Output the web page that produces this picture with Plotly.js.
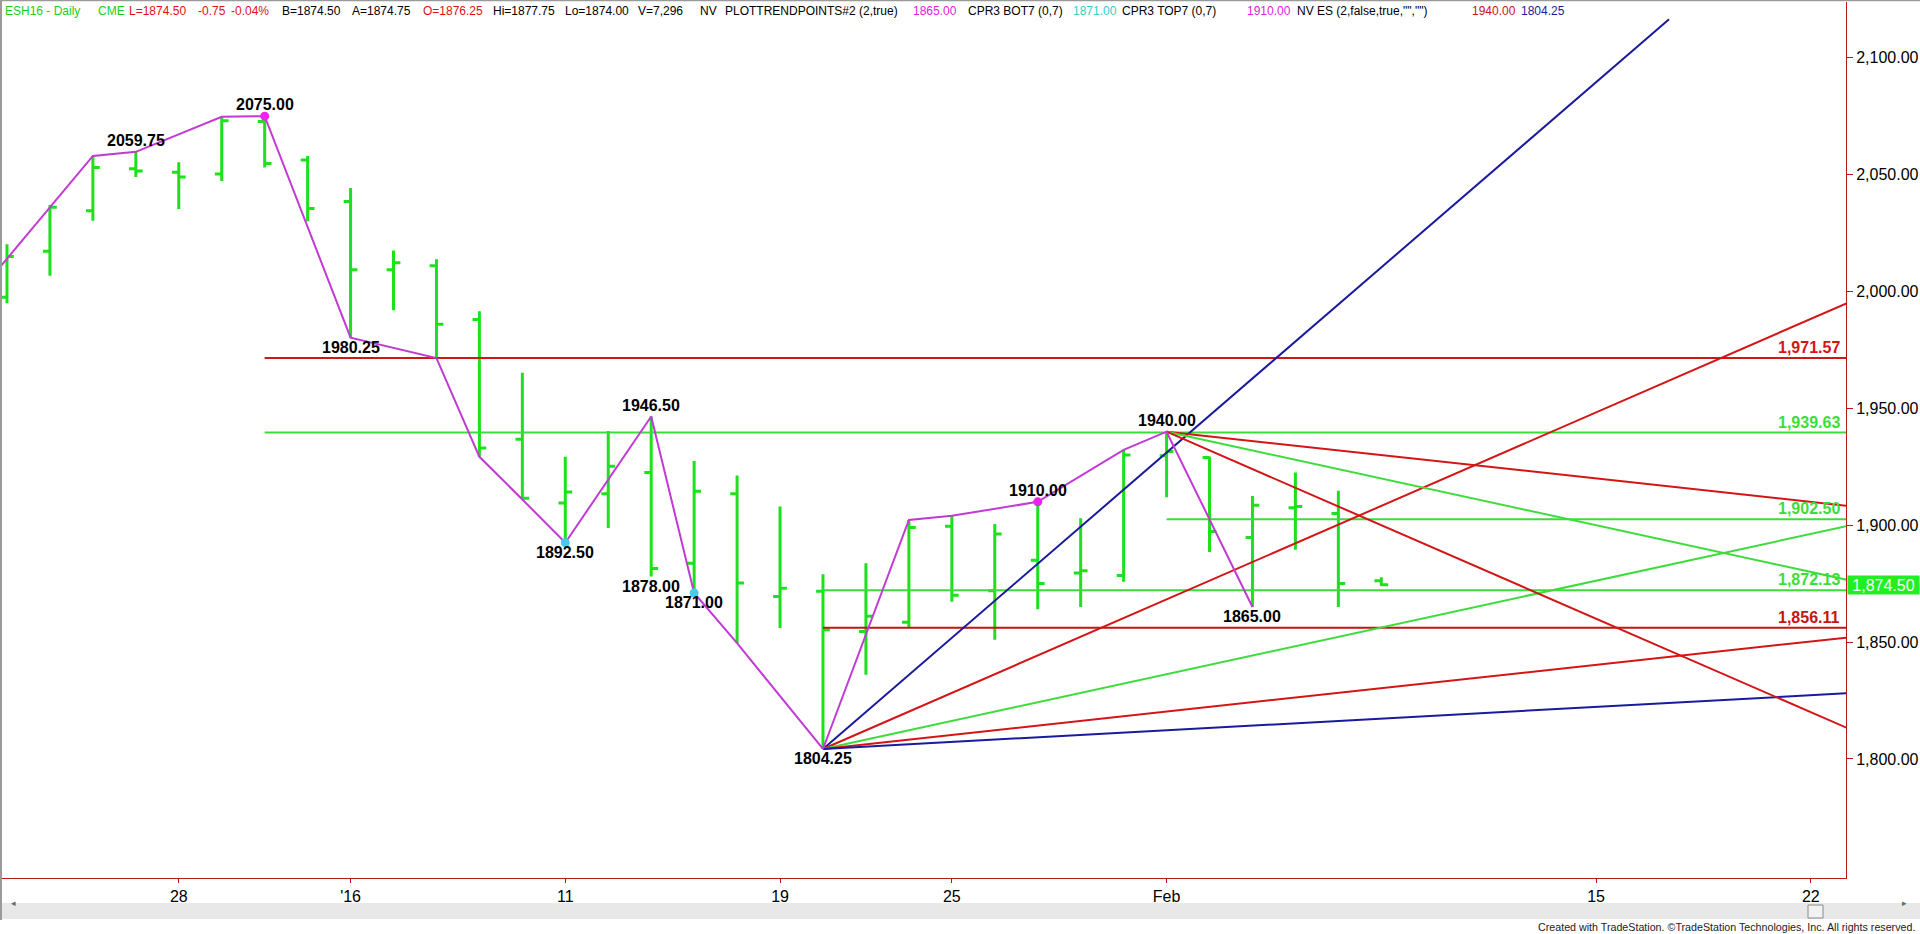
<!DOCTYPE html>
<html><head><meta charset="utf-8">
<script src="https://cdn.plot.ly/plotly-3.0.1.min.js"></script>
<style>html,body{margin:0;padding:0;background:#fff;overflow:hidden}#chart{width:1920px;height:934px;}</style>
</head><body><div id="chart"></div>
<script>
// ---------------- DATA ----------------
const dates = ['2015-12-21','2015-12-22','2015-12-23','2015-12-24','2015-12-28','2015-12-29','2015-12-30','2015-12-31',
  '2016-01-04','2016-01-05','2016-01-06','2016-01-07','2016-01-08','2016-01-11','2016-01-12','2016-01-13','2016-01-14','2016-01-15',
  '2016-01-19','2016-01-20','2016-01-21','2016-01-22','2016-01-25','2016-01-26','2016-01-27','2016-01-28','2016-01-29',
  '2016-02-01','2016-02-02','2016-02-03','2016-02-04','2016-02-05','2016-02-08'];
const openP  = [1997.5,2017.25,2034.5,2052.5,2051.0,2050.25,2072.75,2056.25,2038.5,2009.25,2011.0,1988.0,1936.75,1909.5,1913.5,1922.5,1883.75,1913.5,1869.5,1871.75,1854.5,1858.5,1899.5,1872.0,1885.0,1879.5,1878.5,1929.75,1929.0,1894.75,1907.5,1905.0,1876.25];
const highP  = [2020.25,2037.0,2058.0,2059.75,2055.25,2074.75,2075.0,2058.0,2044.25,2017.5,2013.75,1991.5,1965.25,1929.25,1940.25,1946.5,1927.5,1921.25,1908.0,1879.0,1883.75,1902.25,1904.0,1900.5,1910.0,1903.0,1932.25,1940.0,1929.25,1912.5,1922.5,1914.75,1877.75];
const lowP   = [1995.0,2006.75,2030.25,2049.0,2035.25,2047.25,2053.0,2030.0,1980.25,1992.0,1971.5,1929.25,1911.0,1892.5,1898.75,1878.0,1871.0,1849.5,1856.0,1804.25,1836.0,1856.0,1867.25,1851.0,1864.0,1865.0,1875.75,1912.0,1888.5,1865.0,1889.5,1865.0,1874.0];
const closeP = [2015.0,2036.0,2053.0,2051.5,2049.0,2073.0,2054.75,2035.5,2009.25,2012.25,1986.0,1933.0,1911.5,1914.25,1925.25,1881.5,1914.5,1875.25,1873.0,1855.25,1861.0,1899.0,1870.0,1896.25,1875.0,1880.5,1930.0,1931.5,1897.25,1908.5,1908.0,1875.0,1874.5];

// x-axis tick labels at trading-day slots (slot 37 = Feb 15, 42 = Feb 22)
const tickIdx  = [4, 8, 13, 18, 22, 27, 37, 42];
const tickText = ['28', "'16", '11', '19', '25', 'Feb', '15', '22'];
const yTicks   = [1800, 1850, 1900, 1950, 2000, 2050, 2100];

// swing (trend point) line
const pivotIdx   = [-1, 2, 3, 5, 6, 8, 10, 11, 12, 13, 15, 16, 17, 19, 21, 22, 24, 26, 27, 29];
const pivotPrice = [1992.0, 2058.0, 2059.75, 2074.75, 2075.0, 1980.25, 1971.5, 1929.25, 1911.0, 1892.5, 1946.5, 1871.0, 1849.5, 1804.25, 1902.25, 1904.0, 1910.0, 1932.25, 1940.0, 1865.0];
const topDotIdx = [6, 24], topDotPrice = [2075.0, 1910.0];
const botDotIdx = [13, 16], botDotPrice = [1892.5, 1871.0];

// labels on swing points
const swingIdx   = [3, 6, 8, 13, 15, 15, 16, 19, 24, 27, 29];
const swingPrice = [2059.75, 2075.0, 1980.25, 1892.5, 1946.5, 1878.0, 1871.0, 1804.25, 1910.0, 1940.0, 1865.0];
const swingSide  = ['above','above','below','below','above','below','below','below','above','above','below'];

// horizontal levels
const levelPrice    = [1971.57, 1939.63, 1902.50, 1872.13, 1856.11];
const levelStartIdx = [6, 6, 27, 19, 19];
const levelColor    = ['#d41515', '#3ddc3d', '#3ddc3d', '#3ddc3d', '#c41515'];

// angle (fan) lines from 1804.25 low and 1940.00 high
const fanStartIdx   = [19, 19, 19, 19, 19, 27, 27, 27];
const fanStartPrice = [1804.25, 1804.25, 1804.25, 1804.25, 1804.25, 1940.0, 1940.0, 1940.0];
const fanEndIdx     = [38.7, 43, 43, 43, 43, 43, 43, 43];
const fanEndPrice   = [2116.5, 1996.25, 1900.25, 1852.25, 1828.25, 1908.0, 1876.0, 1812.0];
const fanColor      = ['#1a1a9c', '#d41515', '#3ddc3d', '#d41515', '#1a1a9c', '#d41515', '#3ddc3d', '#d41515'];

const lastPrice = 1874.50;

// header text segments
const headerText  = ['ESH16 - Daily', 'CME', 'L=1874.50', '-0.75', '-0.04%', 'B=1874.50', 'A=1874.75', 'O=1876.25',
  'Hi=1877.75', 'Lo=1874.00', 'V=7,296', 'NV', 'PLOTTRENDPOINTS#2 (2,true)', '1865.00', 'CPR3 BOT7 (0,7)', '1871.00',
  'CPR3 TOP7 (0,7)', '1910.00', 'NV ES (2,false,true,"","")', '1940.00', '1804.25'];
const headerColor = ['#22cc22', '#22cc22', '#dd1111', '#dd1111', '#dd1111', '#000000', '#000000', '#dd1111',
  '#000000', '#000000', '#000000', '#000000', '#000000', '#dd22dd', '#000000', '#33cccc',
  '#000000', '#dd22dd', '#000000', '#cc1111', '#1a1a9c'];
const headerPx    = [3, 96, 127, 196, 229, 280, 350, 421, 491, 563, 636, 698, 723, 911, 966, 1071, 1120, 1245, 1295, 1470, 1519];

// ---------------- GEOMETRY ----------------
const W = 1920, H = 934, ML = 2, MR = 74, MT = 2, MB = 56;
const PW = W - ML - MR, PH = H - MT - MB;
const px2x = p => (p - ML) / PW;
const py2y = p => (H - MB - p) / PH;
const ARIAL = '"Liberation Sans", Arial, sans-serif';

const xIdx = dates.map((d, i) => i);
const fmt2 = v => v.toFixed(2);
const fmtC = v => v.toLocaleString('en-US', {minimumFractionDigits: 2, maximumFractionDigits: 2});

const traces = [];
levelPrice.forEach((p, k) => traces.push({type: 'scatter', mode: 'lines', x: [levelStartIdx[k], 44], y: [p, p],
  line: {color: levelColor[k], width: 2}, hoverinfo: 'skip'}));
fanStartIdx.forEach((s, k) => traces.push({type: 'scatter', mode: 'lines', x: [s, fanEndIdx[k]], y: [fanStartPrice[k], fanEndPrice[k]],
  line: {color: fanColor[k], width: 2}, hoverinfo: 'skip'}));
traces.push({type: 'ohlc', x: xIdx, open: openP, high: highP, low: lowP, close: closeP, tickwidth: 0.16,
  increasing: {line: {color: '#1ee01e', width: 3}}, decreasing: {line: {color: '#1ee01e', width: 3}}, hoverinfo: 'skip'});
traces.push({type: 'scatter', mode: 'lines', x: pivotIdx, y: pivotPrice, line: {color: '#c23ad4', width: 2}, hoverinfo: 'skip'});
traces.push({type: 'scatter', mode: 'markers', x: topDotIdx, y: topDotPrice, marker: {color: '#ee22ee', size: 9}, hoverinfo: 'skip'});
traces.push({type: 'scatter', mode: 'markers', x: botDotIdx, y: botDotPrice, marker: {color: '#44ccee', size: 9}, hoverinfo: 'skip'});

const annotations = [];
swingIdx.forEach((ix, k) => annotations.push({x: ix, y: swingPrice[k], xref: 'x', yref: 'y', text: fmt2(swingPrice[k]),
  showarrow: false, xanchor: 'center', yanchor: swingSide[k] === 'above' ? 'bottom' : 'top', yshift: 1,
  font: {family: ARIAL, size: 16, color: '#000', weight: 'bold'}}));
levelPrice.forEach((p, k) => annotations.push({x: px2x(1842), xref: 'paper', y: p, yref: 'y', text: fmtC(p), showarrow: false,
  xanchor: 'right', yanchor: 'bottom', yshift: 0, font: {family: ARIAL, size: 16, color: levelColor[k], weight: 'bold'}}));
annotations.push({x: px2x(1847), xref: 'paper', y: lastPrice, yref: 'y', text: fmtC(lastPrice), showarrow: false,
  xanchor: 'left', yanchor: 'middle', bgcolor: '#22ee22', borderpad: 0, width: 71, height: 18, align: 'center',
  font: {family: ARIAL, size: 16, color: '#f4fff4'}});
headerText.forEach((t, k) => annotations.push({x: px2x(headerPx[k]), xref: 'paper', y: py2y(11), yref: 'paper', text: t,
  showarrow: false, xanchor: 'left', yanchor: 'middle', font: {family: ARIAL, size: 12, color: headerColor[k]}}));
annotations.push({x: px2x(1917), xref: 'paper', y: py2y(927), yref: 'paper', text: 'Created with TradeStation. ©TradeStation Technologies, Inc. All rights reserved.',
  showarrow: false, xanchor: 'right', yanchor: 'middle', font: {family: ARIAL, size: 10.7, color: '#222'}});
annotations.push({x: px2x(9), xref: 'paper', y: py2y(911), yref: 'paper', text: '◂', showarrow: false, font: {size: 9, color: '#666'}});
annotations.push({x: px2x(1909), xref: 'paper', y: py2y(911), yref: 'paper', text: '▸', showarrow: false, font: {size: 9, color: '#666'}});

const shapes = [
  {type: 'rect', xref: 'paper', yref: 'paper', x0: px2x(0), x1: px2x(1920), y0: py2y(919), y1: py2y(903), fillcolor: '#e8e8e8', line: {width: 0}, layer: 'below'},
  {type: 'rect', xref: 'paper', yref: 'paper', x0: px2x(1808), x1: px2x(1823), y0: py2y(918), y1: py2y(905), fillcolor: '#f2f2f2', line: {color: '#8a8a8a', width: 1}},
  {type: 'line', xref: 'paper', yref: 'paper', x0: px2x(1), x1: px2x(1), y0: py2y(0), y1: py2y(920), line: {color: '#9a9a9a', width: 2}},
  {type: 'line', xref: 'paper', yref: 'paper', x0: px2x(0), x1: px2x(1920), y0: py2y(0.5), y1: py2y(0.5), line: {color: '#9a9a9a', width: 1.5}}
];

const layout = {
  width: W, height: H, margin: {l: ML, r: MR, t: MT, b: MB, pad: 0},
  paper_bgcolor: '#fff', plot_bgcolor: '#fff', showlegend: false, hovermode: false,
  xaxis: {type: 'linear', range: [-0.116, 42.82], showgrid: false, zeroline: false, showline: true, linecolor: '#b81818', linewidth: 1,
    ticks: 'outside', ticklen: 4, tickcolor: '#b81818', tickvals: tickIdx, ticktext: tickText,
    tickfont: {family: ARIAL, size: 16, color: '#000'}, rangeslider: {visible: false}, fixedrange: true},
  yaxis: {side: 'right', range: [1749.05, 2123.85], showgrid: false, zeroline: false, showline: true, linecolor: '#b81818', linewidth: 1,
    ticks: 'outside', ticklen: 6, tickcolor: '#b81818', tickvals: yTicks, tickformat: ',.2f',
    tickfont: {family: ARIAL, size: 16, color: '#000'}, fixedrange: true},
  annotations: annotations, shapes: shapes
};
Plotly.newPlot('chart', traces, layout, {displayModeBar: false, staticPlot: true});
</script></body></html>
